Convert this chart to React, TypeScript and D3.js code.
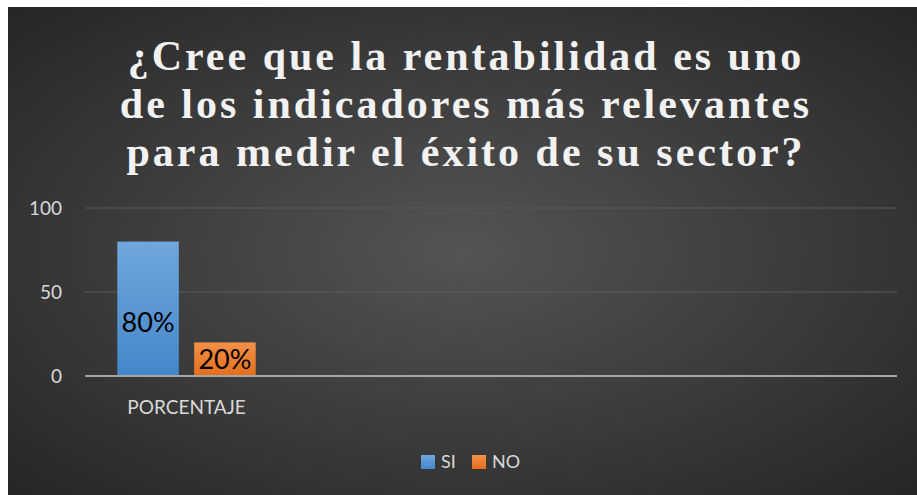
import React from 'react';
import * as d3 from 'd3';

const titleLines = [
  '¿Cree que la rentabilidad es uno',
  'de los indicadores más relevantes',
  'para medir el éxito de su sector?',
];
const categories = ['PORCENTAJE'];
const seriesNames = ['SI', 'NO'];
const seriesValues = [80, 20];
const valueLabels = ['80%', '20%'];
const yTicks = [0, 50, 100];

const W = 917;
const H = 495;
const plot = { left: 85, right: 897, top: 208, bottom: 376 };
// vertical offset of each data label above the axis, px
const labelLift = [53, 16];

const App = () => {
  const y = d3.scaleLinear().domain([0, 100]).range([plot.bottom, plot.top]);
  // one category occupies a quarter of the plot width, as in the original
  const x = d3.scaleBand().domain(categories).range([plot.left, plot.left + 203]).padding(0);
  const inner = d3.scaleBand().domain(seriesNames).range([0, x.bandwidth()])
    .paddingInner(0.2).paddingOuter(0.42);
  const font = 'Lato, "Open Sans", sans-serif';

  return (
    <svg width={W} height={H} style={{ position: 'absolute', left: 0, top: 0 }}>
      <defs>
        <radialGradient id="bg" cx="50%" cy="50%" r="75%">
          <stop offset="0%" stopColor="#545454" />
          <stop offset="100%" stopColor="#232323" />
        </radialGradient>
        <linearGradient id="g-SI" x1="0" y1="0" x2="0" y2="1">
          <stop offset="0%" stopColor="#70a7dd" />
          <stop offset="100%" stopColor="#4387c9" />
        </linearGradient>
        <linearGradient id="g-NO" x1="0" y1="0" x2="0" y2="1">
          <stop offset="0%" stopColor="#f39047" />
          <stop offset="100%" stopColor="#e36e1b" />
        </linearGradient>
      </defs>
      <rect x={0} y={0} width={W} height={H} fill="#fff" />
      <rect x={8} y={7} width={W - 8} height={H - 7} fill="url(#bg)" />

      {titleLines.map((t, i) => (
        <text key={i} x={466} y={70 + i * 48} textAnchor="middle" fill="#f2f2f2"
          fontFamily='"Liberation Serif", "DejaVu Serif", serif' fontWeight="bold"
          fontSize={42} letterSpacing={3}>{t}</text>
      ))}

      {yTicks.map(t => (
        <g key={t}>
          {t !== 0 && <line x1={plot.left} x2={plot.right} y1={y(t)} y2={y(t)} stroke="#5a5a5a" strokeWidth={1} />}
          <text x={62} y={y(t)} dy="0.35em" textAnchor="end" fill="#d9d9d9" fontFamily={font} fontSize={19}>{t}</text>
        </g>
      ))}

      {categories.map(c => (
        <g key={c}>
          {seriesNames.map((s, i) => {
            const bx = (x(c) ?? 0) + (inner(s) ?? 0);
            const v = seriesValues[i];
            return (
              <g key={s}>
                <rect x={bx} y={y(v)} width={inner.bandwidth()} height={y(0) - y(v)} fill={`url(#g-${s})`} />
                <text x={bx + inner.bandwidth() / 2} y={y(0) - labelLift[i]}
                  dy="0.35em" textAnchor="middle" fill="#000" fontFamily={font} fontSize={27}>{valueLabels[i]}</text>
              </g>
            );
          })}
          <text x={(x(c) ?? 0) + x.bandwidth() / 2} y={407} dy="0.35em" textAnchor="middle"
            fill="#d9d9d9" fontFamily={font} fontSize={19}>{c}</text>
        </g>
      ))}

      <line x1={plot.left} x2={plot.right} y1={y(0)} y2={y(0)} stroke="#a6a6a6" strokeWidth={2} />

      {seriesNames.map((s, i) => {
        const lx = 421 + i * 51;
        return (
          <g key={s}>
            <rect x={lx} y={455} width={14} height={14} fill={`url(#g-${s})`} />
            <text x={lx + 20} y={462} dy="0.35em" fill="#d9d9d9" fontFamily={font} fontSize={18}>{s}</text>
          </g>
        );
      })}
    </svg>
  );
};

export default App;
